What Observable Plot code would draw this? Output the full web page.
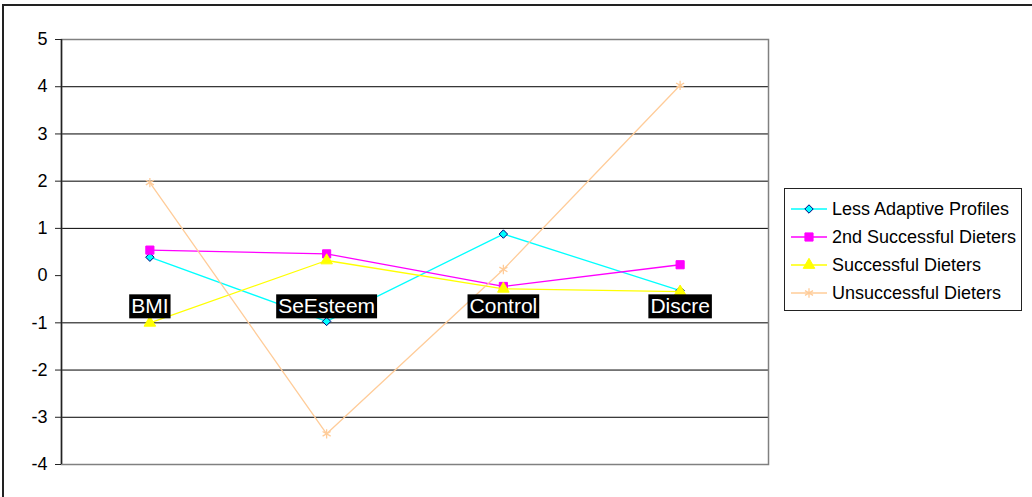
<!DOCTYPE html>
<html>
<head>
<meta charset="utf-8">
<script src="https://cdn.jsdelivr.net/npm/d3@7"></script>
<script src="https://cdn.jsdelivr.net/npm/@observablehq/plot@0.6"></script>
<style>
  html, body { margin: 0; padding: 0; background: #fff; }
  #wrap { position: relative; width: 1032px; height: 497px; overflow: hidden; font-family: Arial, "Liberation Sans", sans-serif; }
  #border { position: absolute; left: 2px; top: 4px; width: 1100px; height: 600px; border-left: 2px solid #222; border-top: 2px solid #222; box-sizing: border-box; }
  #chart { position: absolute; left: 0; top: 0; }
  #legend { position: absolute; left: 784px; top: 188px; width: 238px; height: 123px; border: 1px solid #222; box-sizing: border-box; background: #fff; }
  .row { position: absolute; left: 5px; height: 20px; display: flex; align-items: center; font-size: 18px; color: #000; white-space: nowrap; }
  .row svg { margin-right: 5px; }
</style>
</head>
<body>
<div id="wrap">
  <div id="border"></div>
  <div id="chart"></div>
  <div id="legend"></div>
</div>
<script>
const categories = ["BMI", "SeEsteem", "Control", "Discre"];
const seriesNames = ["Less Adaptive Profiles", "2nd Successful Dieters", "Successful Dieters", "Unsuccessful Dieters"];
const lessAdaptive = [0.39, -0.97, 0.88, -0.32];
const secondSuccessful = [0.54, 0.46, -0.23, 0.23];
const successful = [-1.0, 0.32, -0.28, -0.34];
const unsuccessful = [1.97, -3.35, 0.13, 4.03];
const yTicks = [-4, -3, -2, -1, 0, 1, 2, 3, 4, 5];
const gridValues = [-3, -2, -1, 1, 2, 3, 4];

const seriesValues = [lessAdaptive, secondSuccessful, successful, unsuccessful];
const styles = [
  {stroke: "#00FFFF", symbol: "diamond2", fill: "#00FFFF", mstroke: "#000080", r: 3.8},
  {stroke: "#FF00FF", symbol: "square", fill: "#FF00FF", mstroke: "#FF00FF", r: 4.6},
  {stroke: "#FFFF00", symbol: "triangle", fill: "#FFFF00", mstroke: "#FFFF00", r: 4.3},
  {stroke: "#FFCC99", symbol: "asterisk", fill: "none", mstroke: "#FFCC99", r: 4.4}
];

const rows = [];
seriesNames.forEach((s, k) => seriesValues[k].forEach((v, i) => rows.push({series: s, k, i, category: categories[i], value: v})));

const seriesMarks = [];
seriesNames.forEach((s, k) => {
  const d = rows.filter(r => r.k === k);
  const st = styles[k];
  seriesMarks.push(Plot.line(d, {x: "i", y: "value", stroke: st.stroke, strokeWidth: 1.3}));
  seriesMarks.push(Plot.dot(d, {x: "i", y: "value", symbol: () => st.symbol, fill: st.fill, stroke: st.mstroke, strokeWidth: st.symbol === "asterisk" ? 1.3 : 1, r: st.r}));
});

const chart = Plot.plot({
  width: 775,
  height: 497,
  marginLeft: 61,
  marginRight: 7,
  marginTop: 39,
  marginBottom: 33,
  style: {fontFamily: "Arial, 'Liberation Sans', sans-serif", background: "transparent", color: "#000", overflow: "visible"},
  x: {domain: [-0.5, categories.length - 0.5], axis: null},
  y: {domain: [-4, 5], axis: null},
  symbol: {type: "identity"},
  marks: [
    Plot.ruleY(gridValues, {stroke: "#000", strokeWidth: 1}),
    Plot.frame({stroke: "#808080", strokeWidth: 1.5}),
    Plot.ruleX([-0.5], {stroke: "#222", strokeWidth: 1.5}),
    Plot.axisY(yTicks, {anchor: "left", tickSize: 6, tickPadding: 8, fontSize: 18, stroke: "#222", fill: "#000", label: null, tickFormat: d => String(d)}),
    ...seriesMarks,
    Plot.text(categories, {x: (d, i) => i, y: () => 0, dy: 31, text: d => d, fill: "#fff", fontSize: 21})
  ]
});
document.getElementById("chart").appendChild(chart);

// black boxes behind the category labels
chart.querySelectorAll('g[aria-label="text"] text').forEach(t => {
  if (!categories.includes(t.textContent)) return;
  const b = t.getBBox();
  const rect = document.createElementNS("http://www.w3.org/2000/svg", "rect");
  rect.setAttribute("x", b.x - 2);
  rect.setAttribute("y", b.y);
  rect.setAttribute("width", b.width + 4);
  rect.setAttribute("height", b.height + 1);
  rect.setAttribute("fill", "#000");
  const tr = t.getAttribute("transform");
  if (tr) rect.setAttribute("transform", tr);
  t.parentNode.insertBefore(rect, t);
});

// legend
const legend = document.getElementById("legend");
seriesNames.forEach((name, k) => {
  const st = styles[k];
  const row = document.createElement("div");
  row.className = "row";
  row.style.top = (10 + k * 28) + "px";
  const svg = d3.create("svg").attr("width", 37).attr("height", 20);
  svg.append("line").attr("x1", 1).attr("x2", 37).attr("y1", 10).attr("y2", 10).attr("stroke", st.stroke).attr("stroke-width", 1.3);
  const symMap = {diamond2: d3.symbolDiamond2, square: d3.symbolSquare, triangle: d3.symbolTriangle, asterisk: d3.symbolAsterisk};
  svg.append("path")
    .attr("transform", "translate(19,10)")
    .attr("d", d3.symbol(symMap[st.symbol], Math.PI * st.r * st.r)())
    .attr("fill", st.fill)
    .attr("stroke", st.mstroke)
    .attr("stroke-width", st.symbol === "asterisk" ? 1.3 : 1);
  row.appendChild(svg.node());
  const span = document.createElement("span");
  span.textContent = name;
  row.appendChild(span);
  legend.appendChild(row);
});
</script>
</body>
</html>
